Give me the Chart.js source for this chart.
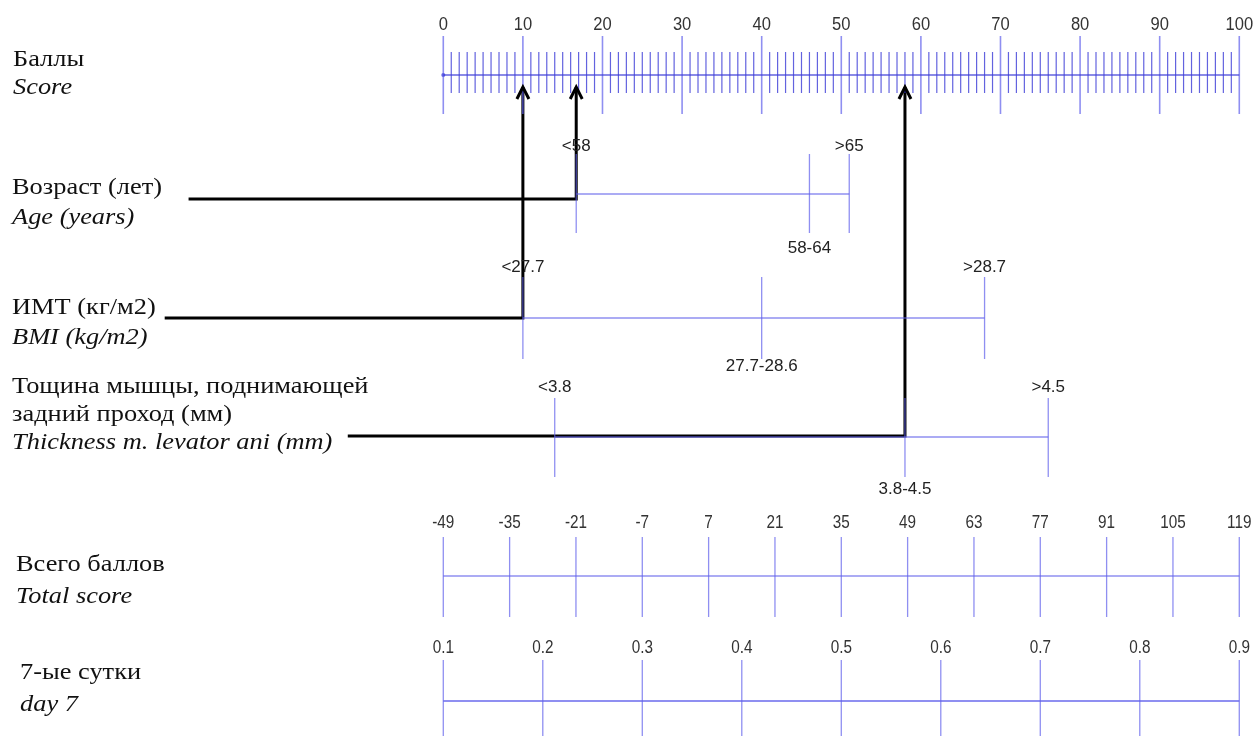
<!DOCTYPE html>
<html>
<head>
<meta charset="utf-8">
<script src="https://cdn.jsdelivr.net/npm/chart.js@4"></script>
<style>
  body { margin: 0; background: #fff; }
  #wrap { width: 1256px; height: 736px; position: relative; }
</style>
</head>
<body>
<div id="wrap"><canvas id="grafico"></canvas></div>
<script>
// Escala de puntos (0-100)
const puntosTicks = [0, 10, 20, 30, 40, 50, 60, 70, 80, 90, 100];

// Variables del nomograma: categorías y puntos asignados
const edadCategorias = ['<58', '58-64', '>65'];
const edadPuntos = [16.7, 46, 51];
const edadLado = ['arriba', 'abajo', 'arriba'];

const imcCategorias = ['<27.7', '27.7-28.6', '>28.7'];
const imcPuntos = [10, 40, 68];
const imcLado = ['arriba', 'abajo', 'arriba'];

const grosorCategorias = ['<3.8', '3.8-4.5', '>4.5'];
const grosorPuntos = [14, 58, 76];
const grosorLado = ['arriba', 'abajo', 'arriba'];

// Puntaje total y probabilidad
const totalTicks = [-49, -35, -21, -7, 7, 21, 35, 49, 63, 77, 91, 105, 119];
const probTicks = [0.1, 0.2, 0.3, 0.4, 0.5, 0.6, 0.7, 0.8, 0.9];

const pacientePuntos = [16.7, 10, 58];
const pacienteInicio = [-32, -35, -12];

// Nombres de filas
const filas = [
  ['Баллы', 'Score'],
  ['Возраст (лет)', 'Age (years)'],
  ['ИМТ (кг/м2)', 'BMI (kg/m2)'],
  ['Тощина мышцы, поднимающей', 'задний проход (мм)', 'Thickness m. levator ani (mm)'],
  ['Всего баллов', 'Total score'],
  ['7-ые сутки', 'day 7']
];

// --- disposición (posiciones verticales de cada fila) ---
const lay = {
  score: { eje: 75, t0: 36, t1: 114, m0: 52, m1: 93, lab: 25 },
  edad: { eje: 194, t0: 154, t1: 233, arriba: 146, abajo: 248, negro: 199 },
  imc: { eje: 318, t0: 277, t1: 359, arriba: 267, abajo: 366, negro: 318 },
  grosor: { eje: 437, t0: 398, t1: 477, arriba: 387, abajo: 489, negro: 436 },
  total: { eje: 576, t0: 537, t1: 617, lab: 523 },
  prob: { eje: 701, t0: 660, t1: 745, lab: 648 },
  flecha: 87,
  nombres: [
    { x: 13, y: [60, 88] },
    { x: 12, y: [188, 218] },
    { x: 12, y: [308, 338] },
    { x: 12, y: [387, 415, 443] },
    { x: 16, y: [565, 597] },
    { x: 20, y: [673, 705] }
  ]
};

const azul = 'rgba(95, 95, 235, 0.7)';
const azulOscuro = 'rgba(60, 60, 215, 0.8)';

const totalAPuntos = t => (t - totalTicks[0]) / (totalTicks[totalTicks.length - 1] - totalTicks[0]) * 100;
const probAPuntos = p => (p - probTicks[0]) / (probTicks[probTicks.length - 1] - probTicks[0]) * 100;

function segmentos(xs, y0, y1) {
  const d = [];
  xs.forEach(x => { d.push({ x: x, y: y0 }, { x: x, y: y1 }, { x: x, y: null }); });
  return d;
}

function linea(data, color, ancho) {
  return { data: data, borderColor: color, borderWidth: ancho, showLine: true, pointRadius: 0, pointHoverRadius: 0, spanGaps: false };
}

const menores = [];
for (let v = 0; v <= 100; v++) if (v % 10 !== 0) menores.push(v);

const datasets = [];
// Escala de puntos
datasets.push(linea([{ x: 0, y: lay.score.eje }, { x: 100, y: lay.score.eje }], azulOscuro, 1.3));
datasets.push(linea(segmentos(puntosTicks, lay.score.t0, lay.score.t1), azul, 1.6));
datasets.push(linea(segmentos(menores, lay.score.m0, lay.score.m1), azulOscuro, 1.2));
datasets.push({ data: [{ x: 0, y: lay.score.eje }], pointRadius: 2, pointHoverRadius: 2, backgroundColor: azulOscuro, borderWidth: 0 });

// Variables categóricas
[[edadPuntos, lay.edad], [imcPuntos, lay.imc], [grosorPuntos, lay.grosor]].forEach(([pts, f]) => {
  datasets.push(linea([{ x: pts[0], y: f.eje }, { x: pts[pts.length - 1], y: f.eje }], azul, 1.4));
  datasets.push(linea(segmentos(pts, f.t0, f.t1), azul, 1.3));
});

// Total y probabilidad
const totalX = totalTicks.map(totalAPuntos);
datasets.push(linea([{ x: 0, y: lay.total.eje }, { x: 100, y: lay.total.eje }], azul, 1.4));
datasets.push(linea(segmentos(totalX, lay.total.t0, lay.total.t1), azul, 1.3));
const probX = probTicks.map(probAPuntos);
datasets.push(linea([{ x: 0, y: lay.prob.eje }, { x: 100, y: lay.prob.eje }], azul, 2.2));
datasets.push(linea(segmentos(probX, lay.prob.t0, lay.prob.t1), azul, 1.3));

// Flechas del paciente
[lay.edad.negro, lay.imc.negro, lay.grosor.negro].forEach((yy, i) => {
  datasets.push(linea([
    { x: pacienteInicio[i], y: yy },
    { x: pacientePuntos[i], y: yy },
    { x: pacientePuntos[i], y: lay.flecha }
  ], '#000', 3));
});

// texto estirado horizontalmente
function textoEscalado(ctx, t, px, py, sx) {
  ctx.save();
  ctx.translate(px, py);
  ctx.scale(sx, 1);
  ctx.fillText(t, 0, 0);
  ctx.restore();
}

const textos = {
  id: 'textos',
  afterDatasetsDraw(chart) {
    const { ctx, scales: { x, y } } = chart;
    ctx.save();
    ctx.textAlign = 'center';
    ctx.textBaseline = 'middle';

    // puntas de flecha
    ctx.strokeStyle = '#000';
    ctx.lineWidth = 3;
    pacientePuntos.forEach(p => {
      const px = x.getPixelForValue(p), py = y.getPixelForValue(lay.flecha);
      ctx.beginPath();
      ctx.moveTo(px - 6, py + 12);
      ctx.lineTo(px, py);
      ctx.lineTo(px + 6, py + 12);
      ctx.stroke();
    });

    ctx.fillStyle = '#333';
    ctx.font = '18px "Liberation Sans", Arial, sans-serif';
    puntosTicks.forEach(v => textoEscalado(ctx, String(v), x.getPixelForValue(v), y.getPixelForValue(lay.score.lab), 0.92));
    totalTicks.forEach(v => textoEscalado(ctx, String(v), x.getPixelForValue(totalAPuntos(v)), y.getPixelForValue(lay.total.lab), 0.85));
    probTicks.forEach(v => textoEscalado(ctx, String(v), x.getPixelForValue(probAPuntos(v)), y.getPixelForValue(lay.prob.lab), 0.85));

    ctx.fillStyle = '#222';
    ctx.font = '17px "Liberation Sans", Arial, sans-serif';
    [[edadCategorias, edadPuntos, edadLado, lay.edad],
     [imcCategorias, imcPuntos, imcLado, lay.imc],
     [grosorCategorias, grosorPuntos, grosorLado, lay.grosor]].forEach(([cats, pts, lado, f]) => {
      cats.forEach((c, i) => ctx.fillText(c, x.getPixelForValue(pts[i]), y.getPixelForValue(f[lado[i]])));
    });

    // nombres de filas
    ctx.textAlign = 'left';
    ctx.fillStyle = '#111';
    filas.forEach((lineas, i) => {
      const pos = lay.nombres[i];
      lineas.forEach((t, j) => {
        const italica = j === lineas.length - 1;
        ctx.font = (italica ? 'italic ' : '') + '24px "Liberation Serif", "Times New Roman", serif';
        textoEscalado(ctx, t, chart.chartArea.left + pos.x, y.getPixelForValue(pos.y[j]), 1.1);
      });
    });
    ctx.restore();
  }
};

new Chart(document.getElementById('grafico').getContext('2d'), {
  type: 'scatter',
  data: { datasets: datasets },
  options: {
    responsive: true,
    maintainAspectRatio: false,
    animation: false,
    events: [],
    layout: { padding: 0, autoPadding: false },
    plugins: { legend: { display: false }, tooltip: { enabled: false } },
    scales: {
      x: { display: false, min: -55.69, max: 102.1 },
      y: { display: false, min: 0, max: 736, reverse: true }
    }
  },
  plugins: [textos]
});
</script>
</body>
</html>
